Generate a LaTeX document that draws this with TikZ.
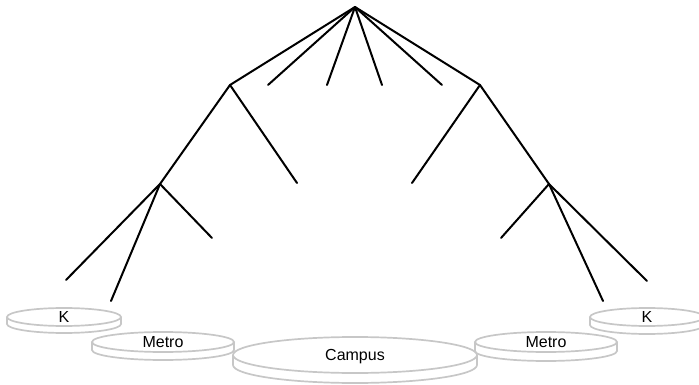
\documentclass[tikz,border=0pt]{standalone}
\usepackage{fontspec}
\setmainfont{Liberation Sans}

\begin{document}
\begin{tikzpicture}[x=1pt, y=-1pt,
    branch/.style={line width=2pt, line cap=round},
    rim/.style={line width=1.7pt, draw=black!22, fill=white},
    disklabel/.style={anchor=base, inner sep=0pt, font=\fontsize{16}{19}\selectfont}]
    \useasboundingbox (0,0) rectangle (699,385);

    % Các đỉnh của cây (tọa độ tuyệt đối)
    \coordinate (root) at (355,7);
    \coordinate (lft) at (230,85);
    \coordinate (rgt) at (480,85);
    \coordinate (lftlow) at (160,184);
    \coordinate (rgtlow) at (549,184);

    % Các đầu mút tự do
    \foreach \name/\x/\y in {top-2/268/85, top-3/327/85, top-4/382/85, top-5/442/85,
        lft-end/297/183, rgt-end/412/183,
        lftlow-a/66/280, lftlow-b/111/301, lftlow-c/212/238,
        rgtlow-a/501/238, rgtlow-b/603/301, rgtlow-c/647/281}
        \coordinate (\name) at (\x,\y);

    % Các cạnh
    \foreach \a/\b in {root/lft, root/top-2, root/top-3, root/top-4, root/top-5, root/rgt,
        lft/lftlow, lft/lft-end, rgt/rgtlow, rgt/rgt-end,
        lftlow/lftlow-a, lftlow/lftlow-b, lftlow/lftlow-c,
        rgtlow/rgtlow-a, rgtlow/rgtlow-b, rgtlow/rgtlow-c}
        \draw[branch] (\a) -- (\b);

    % Các đĩa (tâm, bán trục, độ dày, nhãn)
    \foreach \cx/\cy/\rx/\ry/\d/\txt [count=\i] in {355/355/122/18/10/Campus,
        163/342/71/10/8/Metro, 546/342/71/10/9/Metro,
        64/317/57/9/7/K, 647/317/57/9/8/K}
    {
        \filldraw[rim] (\cx,\cy+\d) ellipse [x radius=\rx, y radius=\ry];
        \fill[white] (\cx-\rx,\cy) rectangle (\cx+\rx,\cy+\d);
        \draw[rim] (\cx-\rx,\cy) -- (\cx-\rx,\cy+\d) (\cx+\rx,\cy) -- (\cx+\rx,\cy+\d);
        \filldraw[rim] (\cx,\cy) ellipse [x radius=\rx, y radius=\ry];
        \node[disklabel] (disk-\i) at (\cx,\cy+5.5) {\txt};
    }
\end{tikzpicture}
\end{document}
